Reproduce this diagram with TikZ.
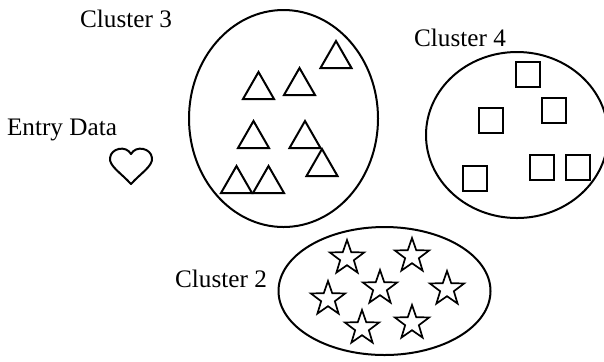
\documentclass[tikz,border=0pt]{standalone}
\usepackage{fontspec}
\setmainfont{Liberation Serif}
\usetikzlibrary{shapes.geometric}
\begin{document}
\begin{tikzpicture}[x=0.5pt,y=-0.5pt,
  outline/.style={draw=black,line width=1pt},
  label/.style={font=\fontsize{12.6}{15}\selectfont,inner sep=0pt},
  starmark/.style={star,star points=5,star point ratio=2.5,minimum size=18pt,
    inner sep=0pt,draw=black,line width=0.85pt,shape border rotate=0},
  tri/.pic={\draw[line width=1pt,line join=miter] (-15.5,0) -- (0,-27) -- (15.5,0) -- cycle;},
  sq/.pic={\draw[line width=1.2pt] (0,0) rectangle (24,25);}
]
\useasboundingbox (0,0) rectangle (604,361);

% cluster outlines
\draw[outline] (283.5,118.5) ellipse [x radius=94.5, y radius=108.5];
\draw[outline] (517,135) ellipse [x radius=91, y radius=83];
\draw[outline] (384.5,291) ellipse [x radius=106, y radius=64];

% labels
\node[label] (c3) at (126,19) {Cluster 3};
\node[label] (c4) at (460,38) {Cluster 4};
\node[label] (c2) at (221,279) {Cluster 2};
\node[label] (entry) at (62,130) {Entry Data};

% entry point
\draw[line width=1pt,line join=round]
  (131,184) .. controls (121,173) and (109,166) .. (110,158)
  .. controls (111,148) and (126,145) .. (131,154)
  .. controls (136,145) and (151,148) .. (152,158)
  .. controls (153,166) and (141,173) .. (131,184) -- cycle;

% cluster 3 members
\foreach \x/\y in {336/68, 299.5/95, 258.5/99, 253.5/148, 305/148, 322/176, 236.5/193, 268.5/193}
  \pic at (\x,\y) {tri};

% cluster 4 members
\foreach \x/\y in {516/62, 542/98, 479/108, 463/166, 530/155, 566/155}
  \pic at (\x,\y) {sq};

% cluster 2 members
\foreach \x/\y [count=\i] in {347/258, 412/256, 380/288, 447/289, 328/299, 362/328, 412/323}
  \node[starmark] (s\i) at (\x,\y) {};
\end{tikzpicture}
\end{document}
